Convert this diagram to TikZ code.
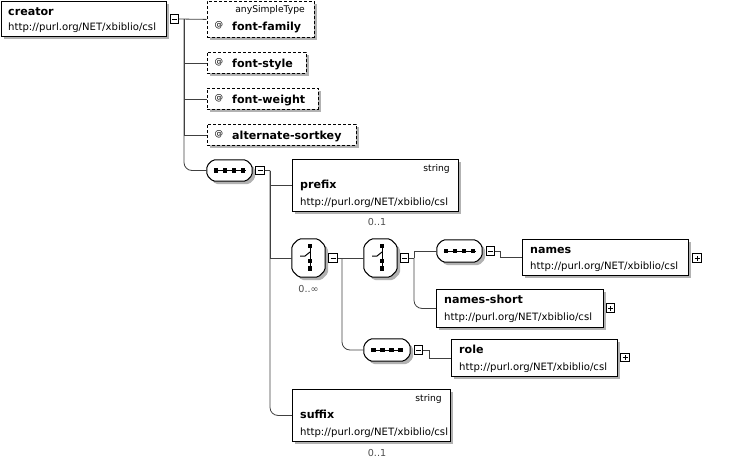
\documentclass[tikz,border=0pt]{standalone}
\usepackage{fontspec}
\setmainfont{DejaVu Sans}
\usetikzlibrary{shadows,calc}
\newcommand\octpath[3]{($(#1.north west)+(#2+#3,#3)$) -- ($(#1.north east)+(-#2+#3,#3)$) -- ($(#1.north east)+(#3,#2+#3)$) -- ($(#1.south east)+(#3,-#2+#3)$) -- ($(#1.south east)+(-#2+#3,#3)$) -- ($(#1.south west)+(#2+#3,#3)$) -- ($(#1.south west)+(#3,-#2+#3)$) -- ($(#1.north west)+(#3,#2+#3)$) -- cycle}
\newcommand\octa[2]{%
  \fill[black!30, rounded corners=2pt] \octpath{#1}{#2}{3};
  \filldraw[fill=white, draw=black, line width=1pt, rounded corners=2pt] \octpath{#1}{#2}{0};
}
\newcommand\seqicon[1]{%
  \octa{#1}{6}
  \draw[icon] ($(#1)+(-16,0)$) -- ($(#1)+(16,0)$);
  \foreach \dx in {-13.5,-4.5,4.5,13.5}{\fill ($(#1)+(\dx,0)$) +(-2.1,-2.1) rectangle +(2.1,2.1);}%
}
\newcommand\choiceicon[1]{%
  \octa{#1}{7}
  \draw[icon] ($(#1)+(1.5,-13)$) -- ($(#1)+(1.5,11)$);
  \draw[icon] ($(#1)+(-8.5,-2)$) -- ($(#1)+(-3.5,-2)$) -- ($(#1)+(1.5,-6)$);
  \foreach \dy in {-12,3,10.5}{\fill ($(#1)+(1.5,\dy)$) +(-2.1,-2.1) rectangle +(2.1,2.1);}%
}
\begin{document}
\begin{tikzpicture}[x=1pt,y=-1pt,
  shad/.style={drop shadow={shadow xshift=3pt,shadow yshift=-3pt,fill=black!30,opacity=1}},
  box/.style={draw, fill=white, line width=0.9pt, inner sep=0, anchor=north west, shad},
  att/.style={box, line width=0.8pt, dash pattern=on 3pt off 2pt},
  comp/.style={rectangle, inner sep=0},
  pm/.style={draw, fill=white, line width=0.7pt, minimum size=8.5pt, inner sep=0,
    path picture={\draw[line width=0.7pt] ([xshift=-2.5pt]path picture bounding box.center) -- ([xshift=2.5pt]path picture bounding box.center);}},
  pp/.style={pm, path picture={\draw[line width=0.7pt] ([xshift=-2.5pt]path picture bounding box.center) -- ([xshift=2.5pt]path picture bounding box.center) ([yshift=-2.5pt]path picture bounding box.center) -- ([yshift=2.5pt]path picture bounding box.center);}},
  conn/.style={draw=black!75, line width=0.8pt},
  icon/.style={line width=1pt},
  nm/.style={anchor=base west, inner sep=0, font=\fontsize{11.1}{12}\selectfont\bfseries},
  url/.style={anchor=base west, inner sep=0, font=\fontsize{10.1}{12}\selectfont},
  typ/.style={anchor=base east, inner sep=0, font=\fontsize{9.2}{11}\selectfont},
  atsym/.style={anchor=base west, inner sep=0, font=\fontsize{8.5}{9}\selectfont},
  occ/.style={anchor=base, inner sep=0, font=\fontsize{9.6}{11}\selectfont, text=black!70}
]
\useasboundingbox (0,0) rectangle (730,461);

% creator
\node[box, minimum width=165pt, minimum height=35pt] (creator) at (0.5,0.5) {};
\node[nm] (creatorN) at (8,15) {creator};
\node[url] (creatorU) at (8,30) {http://purl.org/NET/xbiblio/csl};
\node[pm] (m0) at (174.5,19) {};

% attributes
\node[att, minimum width=107pt, minimum height=36pt] (ff) at (206.5,1) {};
\node[typ] (ffT) at (305,12) {anySimpleType};
\node[atsym] (ffA) at (214.5,27) {@};
\node[nm] (ffN) at (232,30) {font-family};

\node[att, minimum width=99pt, minimum height=21pt] (fs) at (206.5,52) {};
\node[atsym] (fsA) at (214.5,64.5) {@};
\node[nm] (fsN) at (232,67) {font-style};

\node[att, minimum width=111pt, minimum height=21pt] (fw) at (206.5,88) {};
\node[atsym] (fwA) at (214.5,100.5) {@};
\node[nm] (fwN) at (232,103) {font-weight};

\node[att, minimum width=149pt, minimum height=21pt] (as) at (206.5,124) {};
\node[atsym] (asA) at (214.5,136.5) {@};
\node[nm] (asN) at (232,139) {alternate-sortkey};

% sequence 1
\node[comp, minimum width=45pt, minimum height=21pt] (seq1) at (229.5,170.5) {};
\seqicon{seq1}
\node[pm] (m1) at (260,170.5) {};

\coordinate (t0) at (184,19);
\draw[conn] (m0.east) -- (ff.west);
\draw[conn] (t0) |- (fs.west);
\draw[conn] (t0) |- (fw.west);
\draw[conn] (t0) |- (as.west);
\draw[conn, rounded corners=8pt] (t0) |- (seq1.west);

% prefix
\node[box, minimum width=166pt, minimum height=52pt] (prefix) at (292,159) {};
\node[typ] (prefixT) at (450,171.5) {string};
\node[nm] (prefixN) at (300,188.5) {prefix};
\node[url] (prefixU) at (300,205) {http://purl.org/NET/xbiblio/csl};
\node[occ] (prefixO) at (377,225) {0..1};

% choice 1
\node[comp, minimum width=33pt, minimum height=38pt] (ch1) at (308.5,258) {};
\choiceicon{ch1}
\node[occ] (ch1O) at (308.5,292) {0..∞};
\node[pm] (m2) at (333,258) {};

% suffix
\node[box, minimum width=158pt, minimum height=52pt] (suffix) at (292,389) {};
\node[typ] (suffixT) at (442,401.5) {string};
\node[nm] (suffixN) at (300,418.5) {suffix};
\node[url] (suffixU) at (300,435) {http://purl.org/NET/xbiblio/csl};
\node[occ] (suffixO) at (377,456) {0..1};

\coordinate (t1) at (270,170.5);
\draw[conn] (m1.east) -- (t1);
\draw[conn] (t1) |- (prefix.west);
\draw[conn] (t1) |- (ch1.west);
\draw[conn, rounded corners=8pt] (t1) |- (suffix.west);

% choice 2
\node[comp, minimum width=33pt, minimum height=38pt] (ch2) at (380.5,258) {};
\choiceicon{ch2}
\node[pm] (m3) at (404.5,258) {};

% sequence 3 + role
\node[comp, minimum width=46pt, minimum height=22pt] (seq3) at (387,350) {};
\seqicon{seq3}
\node[pm] (m5) at (418.5,350) {};

\coordinate (t2) at (342,258);
\draw[conn] (m2.east) -- (ch2.west);
\draw[conn, rounded corners=8pt] (t2) |- (seq3.west);

% sequence 2 + names
\node[comp, minimum width=45pt, minimum height=22pt] (seq2) at (459.5,251) {};
\seqicon{seq2}
\node[pm] (m4) at (490.5,251) {};

\node[box, minimum width=166pt, minimum height=36pt] (names) at (522,239) {};
\node[nm] (namesN) at (530,253.5) {names};
\node[url] (namesU) at (530,269) {http://purl.org/NET/xbiblio/csl};
\node[pp] (pn) at (697,258) {};

\node[box, minimum width=167pt, minimum height=38pt] (ns) at (436,289) {};
\node[nm] (nsN) at (444,303.5) {names-short};
\node[url] (nsU) at (444,320) {http://purl.org/NET/xbiblio/csl};
\node[pp] (pns) at (610.5,308) {};

\node[box, minimum width=166pt, minimum height=37pt] (role) at (451,339) {};
\node[nm] (roleN) at (459,353.5) {role};
\node[url] (roleU) at (459,370) {http://purl.org/NET/xbiblio/csl};
\node[pp] (pr) at (625,357.5) {};

\coordinate (t3) at (414,258);
\draw[conn] (m3.east) -- (t3);
\draw[conn] (t3) |- (seq2.west);
\draw[conn, rounded corners=8pt] (t3) |- (ns.west);

\coordinate (j4) at (500,251);
\draw[conn] (m4.east) -- (j4) |- (names.west);
\coordinate (j5) at (429,350);
\draw[conn] (m5.east) -- (j5) |- (role.west);
\end{tikzpicture}
\end{document}
